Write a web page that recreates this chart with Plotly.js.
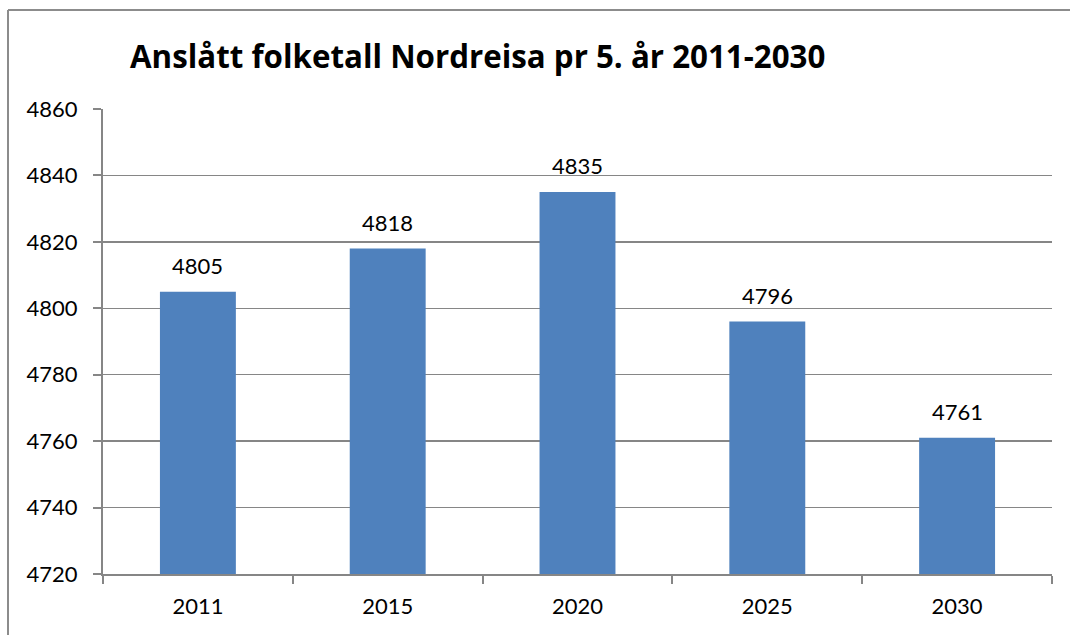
<!DOCTYPE html>
<html><head><meta charset="utf-8">
<script src="https://cdn.plot.ly/plotly-3.0.1.min.js"></script>
<style>html,body{margin:0;padding:0;background:#fff;}#chart{width:1070px;height:635px;}</style>
</head><body><div id="chart"></div>
<script>
const years = ['2011', '2015', '2020', '2025', '2030'];
const population = [4805, 4818, 4835, 4796, 4761];
const yTicks = [4720, 4740, 4760, 4780, 4800, 4820, 4840, 4860];
const chartTitle = 'Anslått folketall Nordreisa pr 5. år 2011-2030';

const FONT = 'Lato, "Open Sans", sans-serif';
const GRID = '#868686';

const trace = {
  type: 'bar',
  x: years,
  y: population,
  marker: {color: '#4F81BD'},
  hoverinfo: 'none'
};

// category axis: annotation x given as category index
const labels = years.map((yr, i) => ({
  x: i, y: population[i], xref: 'x', yref: 'y',
  text: String(population[i]), showarrow: false,
  yanchor: 'bottom', yshift: 11,
  font: {family: FONT, size: 22, color: '#000'}
}));

const BORDER = {color: '#8c8c8c', width: 2};
const layout = {
  width: 1070, height: 635,
  margin: {l: 103, r: 18, t: 109, b: 61},
  paper_bgcolor: '#fff', plot_bgcolor: '#fff',
  showlegend: false,
  bargap: 0.6,
  title: {
    text: '<b>' + chartTitle + '</b>',
    font: {family: '"Open Sans", Lato, sans-serif', size: 31.3, color: '#000'},
    x: 130/1070, xanchor: 'left', xref: 'container',
    y: 1 - 57/635, yanchor: 'middle', yref: 'container'
  },
  xaxis: {
    type: 'category',
    categoryorder: 'array', categoryarray: years,
    range: [-0.5, years.length - 0.5],
    showline: true, linecolor: GRID, linewidth: 2,
    ticks: 'outside', tickson: 'boundaries', ticklen: 8, tickcolor: GRID, tickwidth: 2,
    tickfont: {family: FONT, size: 22, color: '#000'},
    ticklabelstandoff: 12,
    showgrid: false, zeroline: false
  },
  yaxis: {
    range: [4720, 4860],
    tickvals: yTicks,
    ticktext: yTicks.map(String),
    showline: true, linecolor: GRID, linewidth: 2,
    ticks: 'outside', ticklen: 8, tickcolor: GRID, tickwidth: 2,
    tickfont: {family: FONT, size: 22, color: '#000'},
    ticklabelstandoff: 11,
    showgrid: true, gridcolor: GRID, gridwidth: 1.5,
    zeroline: false
  },
  annotations: labels,
  shapes: [
    {type: 'line', xref: 'paper', yref: 'paper',
     x0: (8-103)/949, x1: 1.1, y0: 1 + (109-10)/465, y1: 1 + (109-10)/465, line: BORDER},
    {type: 'line', xref: 'paper', yref: 'paper',
     x0: (8-103)/949, x1: (8-103)/949, y0: -0.3, y1: 1 + (109-10)/465, line: BORDER}
  ]
};

Plotly.newPlot('chart', [trace], layout, {displayModeBar: false, staticPlot: true});
</script></body></html>
